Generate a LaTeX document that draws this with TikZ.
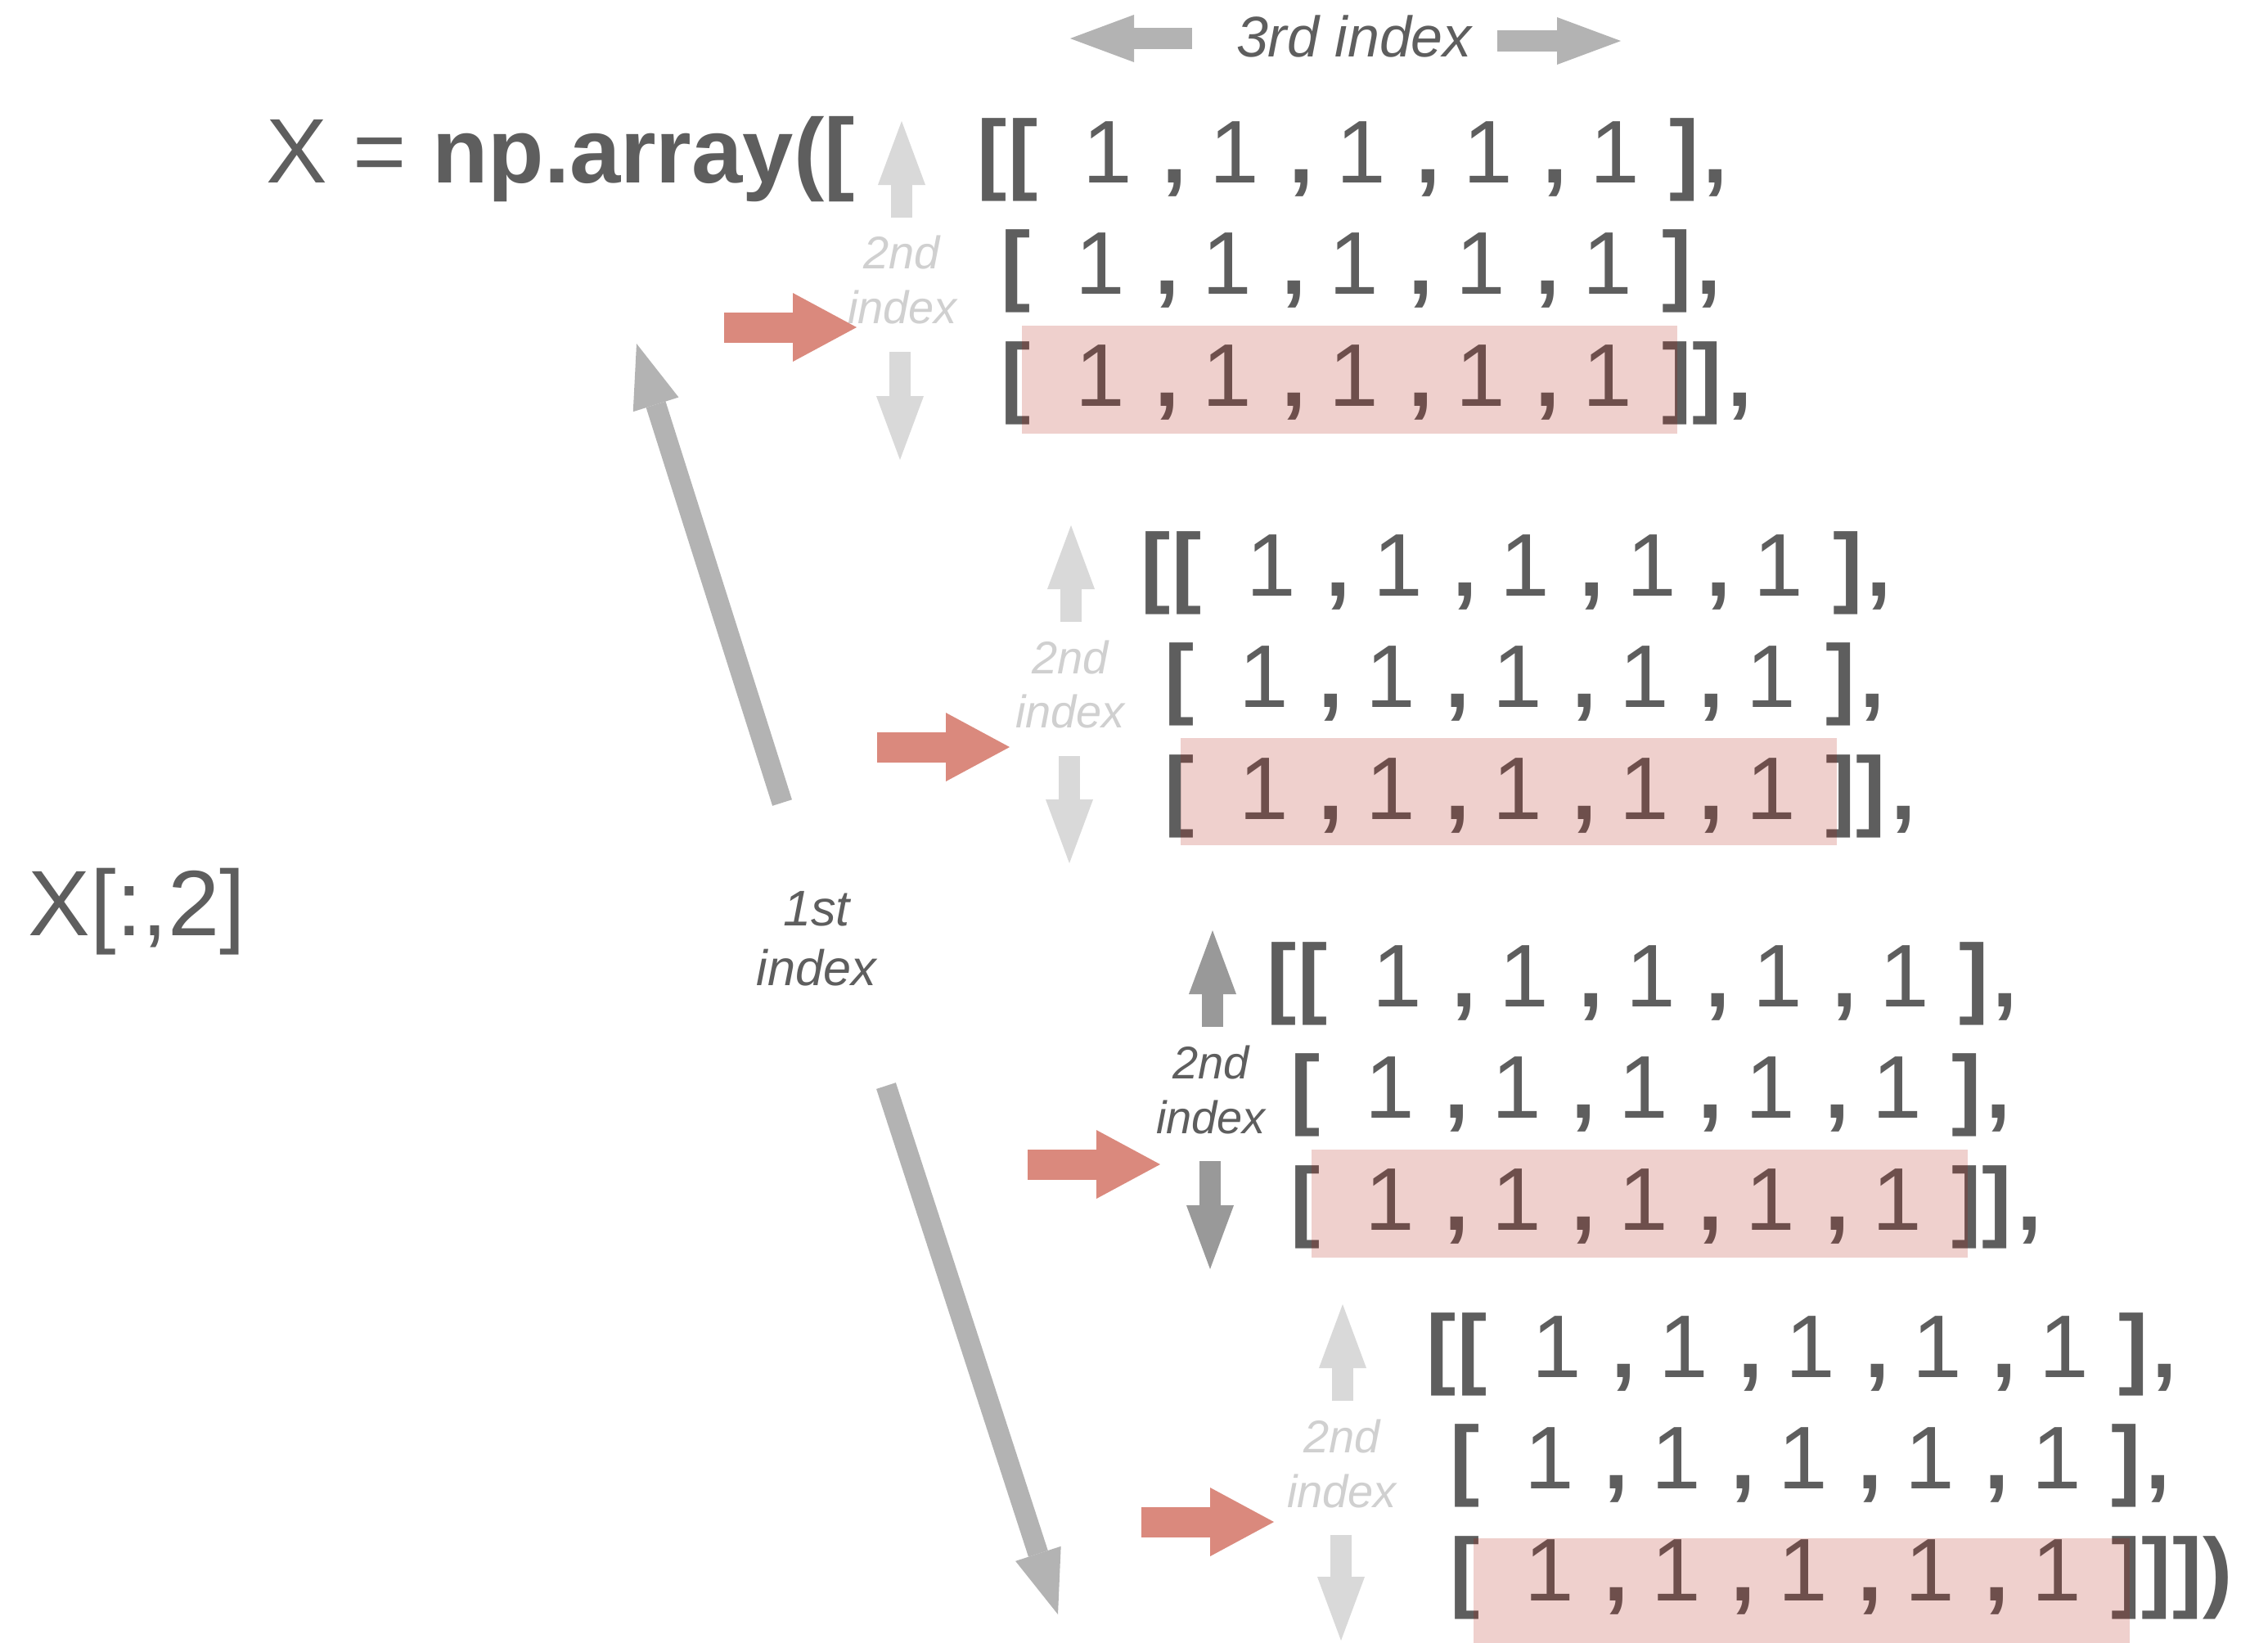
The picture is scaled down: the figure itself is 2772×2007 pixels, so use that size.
\documentclass[tikz,border=0pt]{standalone}
\usepackage{fontspec}
\setmainfont{Liberation Sans}
\usetikzlibrary{arrows.meta}
\newdimen\px \px=0.25pt
\definecolor{txt}{RGB}{94,94,94}
\definecolor{arrgray}{RGB}{179,179,179}
\definecolor{lightarr}{RGB}{217,217,217}
\definecolor{lighttxt}{RGB}{208,208,208}
\definecolor{midarr}{RGB}{153,153,153}
\definecolor{redarr}{RGB}{218,137,125}
\definecolor{hlred}{RGB}{175,22,8}
\newcommand\Gl[2]{\makebox[0pt][c]{#2}\hspace*{#1\px}}
\newcommand\Bf{\bfseries}
\newcommand\Ones{\Gl{82}{1}\Gl{73}{\Bf,}\Gl{82}{1}\Gl{73}{\Bf,}\Gl{82}{1}\Gl{73}{\Bf,}\Gl{82}{1}\Gl{73}{\Bf,}\Gl{85}{1}}
\newcommand\RowA{\Gl{38}{\Bf[}\Gl{103}{\Bf[}\Ones\Gl{38}{\Bf]}\Gl{0}{\Bf,}}
\newcommand\RowB{\Gl{103}{\Bf[}\Ones\Gl{39}{\Bf]}\Gl{0}{\Bf,}}
\newcommand\RowC{\Gl{103}{\Bf[}\Ones\Gl{37}{\Bf]}\Gl{40}{\Bf]}\Gl{0}{\Bf,}}
\newcommand\RowD{\Gl{103}{\Bf[}\Ones\Gl{37}{\Bf]}\Gl{38}{\Bf]}\Gl{37}{\Bf]}\Gl{0}{\Bf)}}
\tikzset{
  rowtext/.style={anchor=base west, inner sep=0pt, text=txt, font=\fontsize{27.2pt}{30pt}\selectfont},
  idx/.style={anchor=base, inner sep=0pt, font=\fontsize{14pt}{17pt}\selectfont\itshape},
  vshaft/.style={line width=6.5pt, -{Triangle[length=19.5pt,width=14.5pt,line width=0pt]}},
  redarrow/.style={redarr, line width=9.25pt, -{Triangle[length=19.5pt,width=21pt,line width=0pt]}},
  bigarrow/.style={arrgray, line width=6.25pt, -{Triangle[length=19.5pt,width=14.6pt,line width=0pt]}},
  hl/.style={fill=hlred, fill opacity=0.2},
}
\newcommand\arrblock[4]{%
  \begin{scope}[shift={(#2,#3)}]
    \node[rowtext] (#1r1) at (1212,223) {\RowA};
    \node[rowtext] (#1r2) at (1241,359) {\RowB};
    \node[rowtext] (#1r3) at (1241,496) {#4};
  \end{scope}}
\begin{document}
\begin{tikzpicture}[x=0.25pt,y=-0.25pt]
\useasboundingbox (0,0) rectangle (2772,2007);
\fill[white] (0,0) rectangle (2772,2007);

% titles
\node[anchor=base west, inner sep=0pt, text=txt, font=\fontsize{28pt}{34pt}\selectfont] (decl) at (325,223) {X = \textbf{np.array([}};
\node[anchor=base west, inner sep=0pt, text=txt, font=\fontsize{28.4pt}{34pt}\selectfont] (sel) at (34,1143) {X[:,2]};

% 3rd index
\node[anchor=base, inner sep=0pt, text=txt, font=\fontsize{17.5pt}{21pt}\selectfont\itshape] (third) at (1655,69) {3rd index};
\coordinate (tl0) at (1457,47); \coordinate (tl1) at (1308,47);
\coordinate (tr0) at (1830,50); \coordinate (tr1) at (1981,50);
\draw[vshaft, arrgray] (tl0) -- (tl1);
\draw[vshaft, arrgray] (tr0) -- (tr1);

% array blocks
\arrblock{a}{0}{0}{\RowC}
\arrblock{b}{200}{505}{\RowC}
\arrblock{c}{354}{1007}{\RowC}
\arrblock{d}{549}{1460}{\RowD}

% highlights
\fill[hl] (1249,398) rectangle (2050,530);
\fill[hl] (1443,902) rectangle (2245,1033);
\fill[hl] (1603,1405) rectangle (2405,1537);
\fill[hl] (1801,1880) rectangle (2603,2012);

% 2nd index labels
\node[idx, text=lighttxt] (a2nd) at (1102,328) {2nd};
\node[idx, text=lighttxt] (aidx) at (1103,395) {index};
\node[idx, text=lighttxt] (b2nd) at (1308,823) {2nd};
\node[idx, text=lighttxt] (bidx) at (1308,889) {index};
\node[idx, text=txt] (c2nd) at (1480,1318) {2nd};
\node[idx, text=txt] (cidx) at (1480,1385) {index};
\node[idx, text=lighttxt] (d2nd) at (1640,1775) {2nd};
\node[idx, text=lighttxt] (didx) at (1640,1842) {index};

% 2nd index arrows
\coordinate (au0) at (1102,266); \coordinate (au1) at (1102,148);
\coordinate (ad0) at (1100,430); \coordinate (ad1) at (1100,562);
\coordinate (bu0) at (1309,760); \coordinate (bu1) at (1309,642);
\coordinate (bd0) at (1307,924); \coordinate (bd1) at (1307,1055);
\coordinate (cu0) at (1482,1255); \coordinate (cu1) at (1482,1137);
\coordinate (cd0) at (1479,1419); \coordinate (cd1) at (1479,1551);
\coordinate (du0) at (1641,1712); \coordinate (du1) at (1641,1594);
\coordinate (dd0) at (1639,1876); \coordinate (dd1) at (1639,2005);
\draw[vshaft, lightarr] (au0) -- (au1);
\draw[vshaft, lightarr] (ad0) -- (ad1);
\draw[vshaft, lightarr] (bu0) -- (bu1);
\draw[vshaft, lightarr] (bd0) -- (bd1);
\draw[vshaft, midarr] (cu0) -- (cu1);
\draw[vshaft, midarr] (cd0) -- (cd1);
\draw[vshaft, lightarr] (du0) -- (du1);
\draw[vshaft, lightarr] (dd0) -- (dd1);

% red pointers
\coordinate (ar0) at (885,400); \coordinate (ar1) at (1047,400);
\coordinate (br0) at (1072,913); \coordinate (br1) at (1234,913);
\coordinate (cr0) at (1256,1423); \coordinate (cr1) at (1418,1423);
\coordinate (dr0) at (1395,1860); \coordinate (dr1) at (1557,1860);
\draw[redarrow] (ar0) -- (ar1);
\draw[redarrow] (br0) -- (br1);
\draw[redarrow] (cr0) -- (cr1);
\draw[redarrow] (dr0) -- (dr1);

% 1st index
\node[anchor=base, inner sep=0pt, text=txt, font=\fontsize{15.3pt}{18pt}\selectfont\itshape] (first) at (998,1131) {1st};
\node[anchor=base, inner sep=0pt, text=txt, font=\fontsize{15.3pt}{18pt}\selectfont\itshape] (firstidx) at (998,1204) {index};
\coordinate (up0) at (956,981); \coordinate (up1) at (778,420);
\coordinate (dn0) at (1083,1327); \coordinate (dn1) at (1293,1973);
\draw[bigarrow] (up0) -- (up1);
\draw[bigarrow] (dn0) -- (dn1);
\end{tikzpicture}
\end{document}
